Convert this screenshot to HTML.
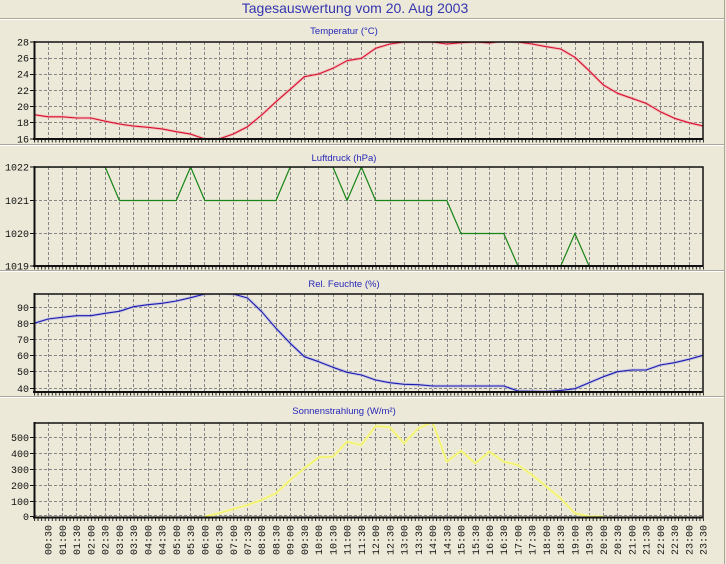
<!DOCTYPE html>
<html><head><meta charset="utf-8"><style>
html,body{margin:0;padding:0;background:#ECE9D8;}
svg{display:block;}
</style></head><body>
<svg width="726" height="564" viewBox="0 0 726 564" xmlns="http://www.w3.org/2000/svg">
<defs>
<path id="vg" fill="none" stroke="#868686" stroke-width="1" stroke-dasharray="3 2" d="M48.5 0V130M62.5 0V130M76.5 0V130M90.5 0V130M105.5 0V130M119.5 0V130M133.5 0V130M148.5 0V130M162.5 0V130M176.5 0V130M190.5 0V130M204.5 0V130M219.5 0V130M233.5 0V130M247.5 0V130M261.5 0V130M276.5 0V130M290.5 0V130M304.5 0V130M318.5 0V130M333.5 0V130M347.5 0V130M361.5 0V130M375.5 0V130M390.5 0V130M404.5 0V130M418.5 0V130M432.5 0V130M447.5 0V130M461.5 0V130M475.5 0V130M489.5 0V130M504.5 0V130M518.5 0V130M532.5 0V130M546.5 0V130M561.5 0V130M575.5 0V130M589.5 0V130M603.5 0V130M617.5 0V130M632.5 0V130M646.5 0V130M660.5 0V130M674.5 0V130M689.5 0V130"/>
<pattern id="tk" x="34" y="0" width="3.5585" height="10" patternUnits="userSpaceOnUse"><rect x="0" y="0" width="1" height="10" fill="#222"/></pattern>
</defs>
<rect width="726" height="564" fill="#ECE9D8"/>
<!-- separators -->
<g stroke-width="1">
<line x1="0" y1="18.5" x2="725" y2="18.5" stroke="#ACA899"/><line x1="0" y1="19.5" x2="725" y2="19.5" stroke="#fff"/>
<line x1="0" y1="144.5" x2="725" y2="144.5" stroke="#ACA899"/><line x1="0" y1="145.5" x2="725" y2="145.5" stroke="#fff"/>
<line x1="0" y1="270.5" x2="725" y2="270.5" stroke="#ACA899"/><line x1="0" y1="271.5" x2="725" y2="271.5" stroke="#fff"/>
<line x1="0" y1="396.5" x2="725" y2="396.5" stroke="#ACA899"/><line x1="0" y1="397.5" x2="725" y2="397.5" stroke="#fff"/>
<line x1="724.5" y1="0" x2="724.5" y2="564" stroke="#ACA899"/>
</g>
<!-- titles -->
<text x="355" y="13" font-family="Liberation Sans, sans-serif" font-size="14" fill="#3535b0" text-anchor="middle">Tagesauswertung vom 20. Aug 2003</text>
<g font-family="Liberation Sans, sans-serif" font-size="9.5" fill="#2828b8" text-anchor="middle">
<text x="344" y="34">Temperatur (°C)</text>
<text x="344" y="161">Luftdruck (hPa)</text>
<text x="344" y="287">Rel. Feuchte (%)</text>
<text x="344" y="414">Sonnenstrahlung (W/m²)</text>
</g>

<!-- Panel 1 -->
<svg x="34" y="42" width="669" height="97" viewBox="34 42 669 97" overflow="hidden">
<use href="#vg" y="42"/>
<path d="M34 58.5H703M34 74.5H703M34 90.5H703M34 106.5H703M34 122.5H703" stroke="#868686" stroke-dasharray="3 2" fill="none"/>
<polyline fill="none" stroke="#f4a8b0" stroke-width="3" stroke-opacity="0.6" stroke-linejoin="round" points="34,114.7 48.2,116.8 62.5,116.8 76.7,118 90.9,118 105.2,121.2 119.4,124 133.6,126.1 147.9,127.3 162.1,128.9 176.3,131.7 190.6,134.1 204.8,139 219,139 233.3,134 247.5,126.7 261.7,115 276,101.7 290.2,89.3 304.4,76.7 318.7,74 332.9,68.3 347.1,60.7 361.4,58.3 375.6,48.3 389.8,44 404.1,42 418.3,42 432.6,42 446.8,44 461,42.7 475.3,42 489.5,43 503.7,41 518,42 532.2,44 546.4,46.7 560.7,49 574.9,57.3 589.1,70.7 603.4,85 617.6,93.3 631.8,98.3 646.1,103.3 660.3,111.7 674.5,118.3 688.8,122.7 703,126"/>
<polyline fill="none" stroke="#d8102c" stroke-width="1.1" stroke-linejoin="round" points="34,114.7 48.2,116.8 62.5,116.8 76.7,118 90.9,118 105.2,121.2 119.4,124 133.6,126.1 147.9,127.3 162.1,128.9 176.3,131.7 190.6,134.1 204.8,139 219,139 233.3,134 247.5,126.7 261.7,115 276,101.7 290.2,89.3 304.4,76.7 318.7,74 332.9,68.3 347.1,60.7 361.4,58.3 375.6,48.3 389.8,44 404.1,42 418.3,42 432.6,42 446.8,44 461,42.7 475.3,42 489.5,43 503.7,41 518,42 532.2,44 546.4,46.7 560.7,49 574.9,57.3 589.1,70.7 603.4,85 617.6,93.3 631.8,98.3 646.1,103.3 660.3,111.7 674.5,118.3 688.8,122.7 703,126"/>
</svg>
<rect x="34.5" y="42" width="668.5" height="97" fill="none" stroke="#111" stroke-width="1.5"/>
<line x1="34.5" y1="41" x2="34.5" y2="140" stroke="#111" stroke-width="2"/>
<line x1="33" y1="139" x2="703.5" y2="139" stroke="#111" stroke-width="2"/>
<rect x="34" y="140" width="670" height="2.5" fill="url(#tk)"/>
<path d="M30 42H34M30 58.5H34M30 74.5H34M30 90.5H34M30 106.5H34M30 122.5H34M30 139H34" stroke="#111"/>
<g font-family="Liberation Mono, monospace" font-size="10" fill="#111" text-anchor="end">
<text x="29" y="45.5">28</text><text x="29" y="61.5">26</text><text x="29" y="77.5">24</text><text x="29" y="94">22</text><text x="29" y="110">20</text><text x="29" y="126">18</text><text x="29" y="142.5">16</text>
</g>

<!-- Panel 2 -->
<svg x="34" y="167" width="669" height="99" viewBox="34 167 669 99" overflow="hidden">
<use href="#vg" y="167"/>
<path d="M34 200.5H703M34 233.5H703" stroke="#868686" stroke-dasharray="3 2" fill="none"/>
<polyline fill="none" stroke="#178517" stroke-width="1.2" stroke-linejoin="round" points="34,167 105.2,167 119.4,200.5 176.3,200.5 190.6,167 204.8,200.5 276,200.5 290.2,167 332.9,167 347.1,200.5 361.4,167 375.6,200.5 446.8,200.5 461,233.5 503.7,233.5 518,266 560.7,266 574.9,233.5 589.1,266 703,266"/>
</svg>
<rect x="34.5" y="167" width="668.5" height="99" fill="none" stroke="#111" stroke-width="1.5"/>
<line x1="34.5" y1="166" x2="34.5" y2="267" stroke="#111" stroke-width="2"/>
<line x1="33" y1="266" x2="703.5" y2="266" stroke="#111" stroke-width="2"/>
<rect x="34" y="267" width="670" height="2.5" fill="url(#tk)"/>
<path d="M30 167H34M30 200.5H34M30 233.5H34M30 266H34" stroke="#111"/>
<g font-family="Liberation Mono, monospace" font-size="10" fill="#111" text-anchor="end">
<text x="29" y="170.5">1022</text><text x="29" y="204">1021</text><text x="29" y="237">1020</text><text x="29" y="269.5">1019</text>
</g>

<!-- Panel 3 -->
<svg x="34" y="294" width="669" height="98" viewBox="34 294 669 98" overflow="hidden">
<use href="#vg" y="294"/>
<path d="M34 307.5H703M34 323.5H703M34 339.5H703M34 355.5H703M34 371.5H703M34 388.5H703" stroke="#868686" stroke-dasharray="3 2" fill="none"/>
<polyline fill="none" stroke="#a8a8e8" stroke-width="3" stroke-opacity="0.5" stroke-linejoin="round" points="34,323.3 48.2,319 62.5,317.3 76.7,315.7 90.9,315.7 105.2,313.3 119.4,311.3 133.6,306.7 147.9,304.7 162.1,303.3 176.3,301 190.6,297.7 204.8,294 219,293 233.3,294 247.5,298 261.7,311.7 276,328.3 290.2,343.3 304.4,356.7 318.7,361.7 332.9,367.3 347.1,372.3 361.4,375 375.6,380 389.8,382.7 404.1,384.3 418.3,384.7 432.6,386 503.7,386 518,391 546.4,391.5 560.7,390.5 574.9,388.7 603.4,376.7 617.6,371.7 631.8,370 646.1,370 660.3,365 674.5,362.7 688.8,359.3 703,355.3"/>
<polyline fill="none" stroke="#1c1cb0" stroke-width="1.1" stroke-linejoin="round" points="34,323.3 48.2,319 62.5,317.3 76.7,315.7 90.9,315.7 105.2,313.3 119.4,311.3 133.6,306.7 147.9,304.7 162.1,303.3 176.3,301 190.6,297.7 204.8,294 219,293 233.3,294 247.5,298 261.7,311.7 276,328.3 290.2,343.3 304.4,356.7 318.7,361.7 332.9,367.3 347.1,372.3 361.4,375 375.6,380 389.8,382.7 404.1,384.3 418.3,384.7 432.6,386 503.7,386 518,391 546.4,391.5 560.7,390.5 574.9,388.7 603.4,376.7 617.6,371.7 631.8,370 646.1,370 660.3,365 674.5,362.7 688.8,359.3 703,355.3"/>
</svg>
<rect x="34.5" y="294" width="668.5" height="98" fill="none" stroke="#111" stroke-width="1.5"/>
<line x1="34.5" y1="293" x2="34.5" y2="393" stroke="#111" stroke-width="2"/>
<line x1="33" y1="392" x2="703.5" y2="392" stroke="#111" stroke-width="2"/>
<rect x="34" y="393" width="670" height="2.5" fill="url(#tk)"/>
<path d="M30 307.5H34M30 323.5H34M30 339.5H34M30 355.5H34M30 371.5H34M30 388.5H34" stroke="#111"/>
<g font-family="Liberation Mono, monospace" font-size="10" fill="#111" text-anchor="end">
<text x="29" y="311">90</text><text x="29" y="327">80</text><text x="29" y="343">70</text><text x="29" y="359">60</text><text x="29" y="375">50</text><text x="29" y="392">40</text>
</g>

<!-- Panel 4 -->
<svg x="34" y="423" width="669" height="95" viewBox="34 423 669 95" overflow="hidden">
<use href="#vg" y="423"/>
<path d="M34 437.5H703M34 453.5H703M34 469.5H703M34 485.5H703M34 501.5H703M34 515.5H703" stroke="#868686" stroke-dasharray="3 2" fill="none"/>
<polyline fill="none" stroke="#f6f6b8" stroke-width="3.2" stroke-opacity="0.8" stroke-linejoin="round" points="204.8,516.5 219,513.3 233.3,509 247.5,505 261.7,500 276,493.3 290.2,480 304.4,468.3 318.7,457.3 332.9,456.7 347.1,441.7 361.4,445 375.6,426 389.8,427.3 404.1,443.3 418.3,428.3 432.6,422 446.8,461.7 461,450.7 475.3,463.3 489.5,451.7 503.7,461.7 518,465 532.2,475 546.4,486.7 560.7,498.3 574.9,513.3 589.1,516.5 603.4,516.5"/>
<polyline fill="none" stroke="#f2f260" stroke-width="1.3" stroke-linejoin="round" points="204.8,516.5 219,513.3 233.3,509 247.5,505 261.7,500 276,493.3 290.2,480 304.4,468.3 318.7,457.3 332.9,456.7 347.1,441.7 361.4,445 375.6,426 389.8,427.3 404.1,443.3 418.3,428.3 432.6,422 446.8,461.7 461,450.7 475.3,463.3 489.5,451.7 503.7,461.7 518,465 532.2,475 546.4,486.7 560.7,498.3 574.9,513.3 589.1,516.5 603.4,516.5"/>
</svg>
<rect x="34.5" y="423" width="668.5" height="94.5" fill="none" stroke="#111" stroke-width="1.5"/>
<line x1="34.5" y1="422" x2="34.5" y2="518.5" stroke="#111" stroke-width="2"/>
<line x1="33" y1="517.5" x2="703.5" y2="517.5" stroke="#111" stroke-width="2"/>
<rect x="34" y="518.5" width="670" height="2.5" fill="url(#tk)"/>
<path d="M30 437.5H34M30 453.5H34M30 469.5H34M30 485.5H34M30 501.5H34M30 516.5H34" stroke="#111"/>
<g font-family="Liberation Mono, monospace" font-size="10" fill="#111" text-anchor="end">
<text x="29" y="441">500</text><text x="29" y="457">400</text><text x="29" y="473">300</text><text x="29" y="489">200</text><text x="29" y="505">100</text><text x="29" y="520">0</text>
</g>

<!-- X labels -->
<g font-family="Liberation Mono, monospace" font-size="10" fill="#111" text-anchor="end">
<text transform="translate(51.7,525) rotate(-90)">00:30</text>
<text transform="translate(66,525) rotate(-90)">01:00</text>
<text transform="translate(80.2,525) rotate(-90)">01:30</text>
<text transform="translate(94.4,525) rotate(-90)">02:00</text>
<text transform="translate(108.7,525) rotate(-90)">02:30</text>
<text transform="translate(122.9,525) rotate(-90)">03:00</text>
<text transform="translate(137.1,525) rotate(-90)">03:30</text>
<text transform="translate(151.4,525) rotate(-90)">04:00</text>
<text transform="translate(165.6,525) rotate(-90)">04:30</text>
<text transform="translate(179.8,525) rotate(-90)">05:00</text>
<text transform="translate(194.1,525) rotate(-90)">05:30</text>
<text transform="translate(208.3,525) rotate(-90)">06:00</text>
<text transform="translate(222.5,525) rotate(-90)">06:30</text>
<text transform="translate(236.8,525) rotate(-90)">07:00</text>
<text transform="translate(251,525) rotate(-90)">07:30</text>
<text transform="translate(265.2,525) rotate(-90)">08:00</text>
<text transform="translate(279.5,525) rotate(-90)">08:30</text>
<text transform="translate(293.7,525) rotate(-90)">09:00</text>
<text transform="translate(307.9,525) rotate(-90)">09:30</text>
<text transform="translate(322.2,525) rotate(-90)">10:00</text>
<text transform="translate(336.4,525) rotate(-90)">10:30</text>
<text transform="translate(350.6,525) rotate(-90)">11:00</text>
<text transform="translate(364.9,525) rotate(-90)">11:30</text>
<text transform="translate(379.1,525) rotate(-90)">12:00</text>
<text transform="translate(393.3,525) rotate(-90)">12:30</text>
<text transform="translate(407.6,525) rotate(-90)">13:00</text>
<text transform="translate(421.8,525) rotate(-90)">13:30</text>
<text transform="translate(436.1,525) rotate(-90)">14:00</text>
<text transform="translate(450.3,525) rotate(-90)">14:30</text>
<text transform="translate(464.5,525) rotate(-90)">15:00</text>
<text transform="translate(478.8,525) rotate(-90)">15:30</text>
<text transform="translate(493,525) rotate(-90)">16:00</text>
<text transform="translate(507.2,525) rotate(-90)">16:30</text>
<text transform="translate(521.5,525) rotate(-90)">17:00</text>
<text transform="translate(535.7,525) rotate(-90)">17:30</text>
<text transform="translate(549.9,525) rotate(-90)">18:00</text>
<text transform="translate(564.2,525) rotate(-90)">18:30</text>
<text transform="translate(578.4,525) rotate(-90)">19:00</text>
<text transform="translate(592.6,525) rotate(-90)">19:30</text>
<text transform="translate(606.9,525) rotate(-90)">20:00</text>
<text transform="translate(621.1,525) rotate(-90)">20:30</text>
<text transform="translate(635.3,525) rotate(-90)">21:00</text>
<text transform="translate(649.6,525) rotate(-90)">21:30</text>
<text transform="translate(663.8,525) rotate(-90)">22:00</text>
<text transform="translate(678,525) rotate(-90)">22:30</text>
<text transform="translate(692.3,525) rotate(-90)">23:00</text>
<text transform="translate(706.5,525) rotate(-90)">23:30</text>
</g>
</svg>
</body></html>
